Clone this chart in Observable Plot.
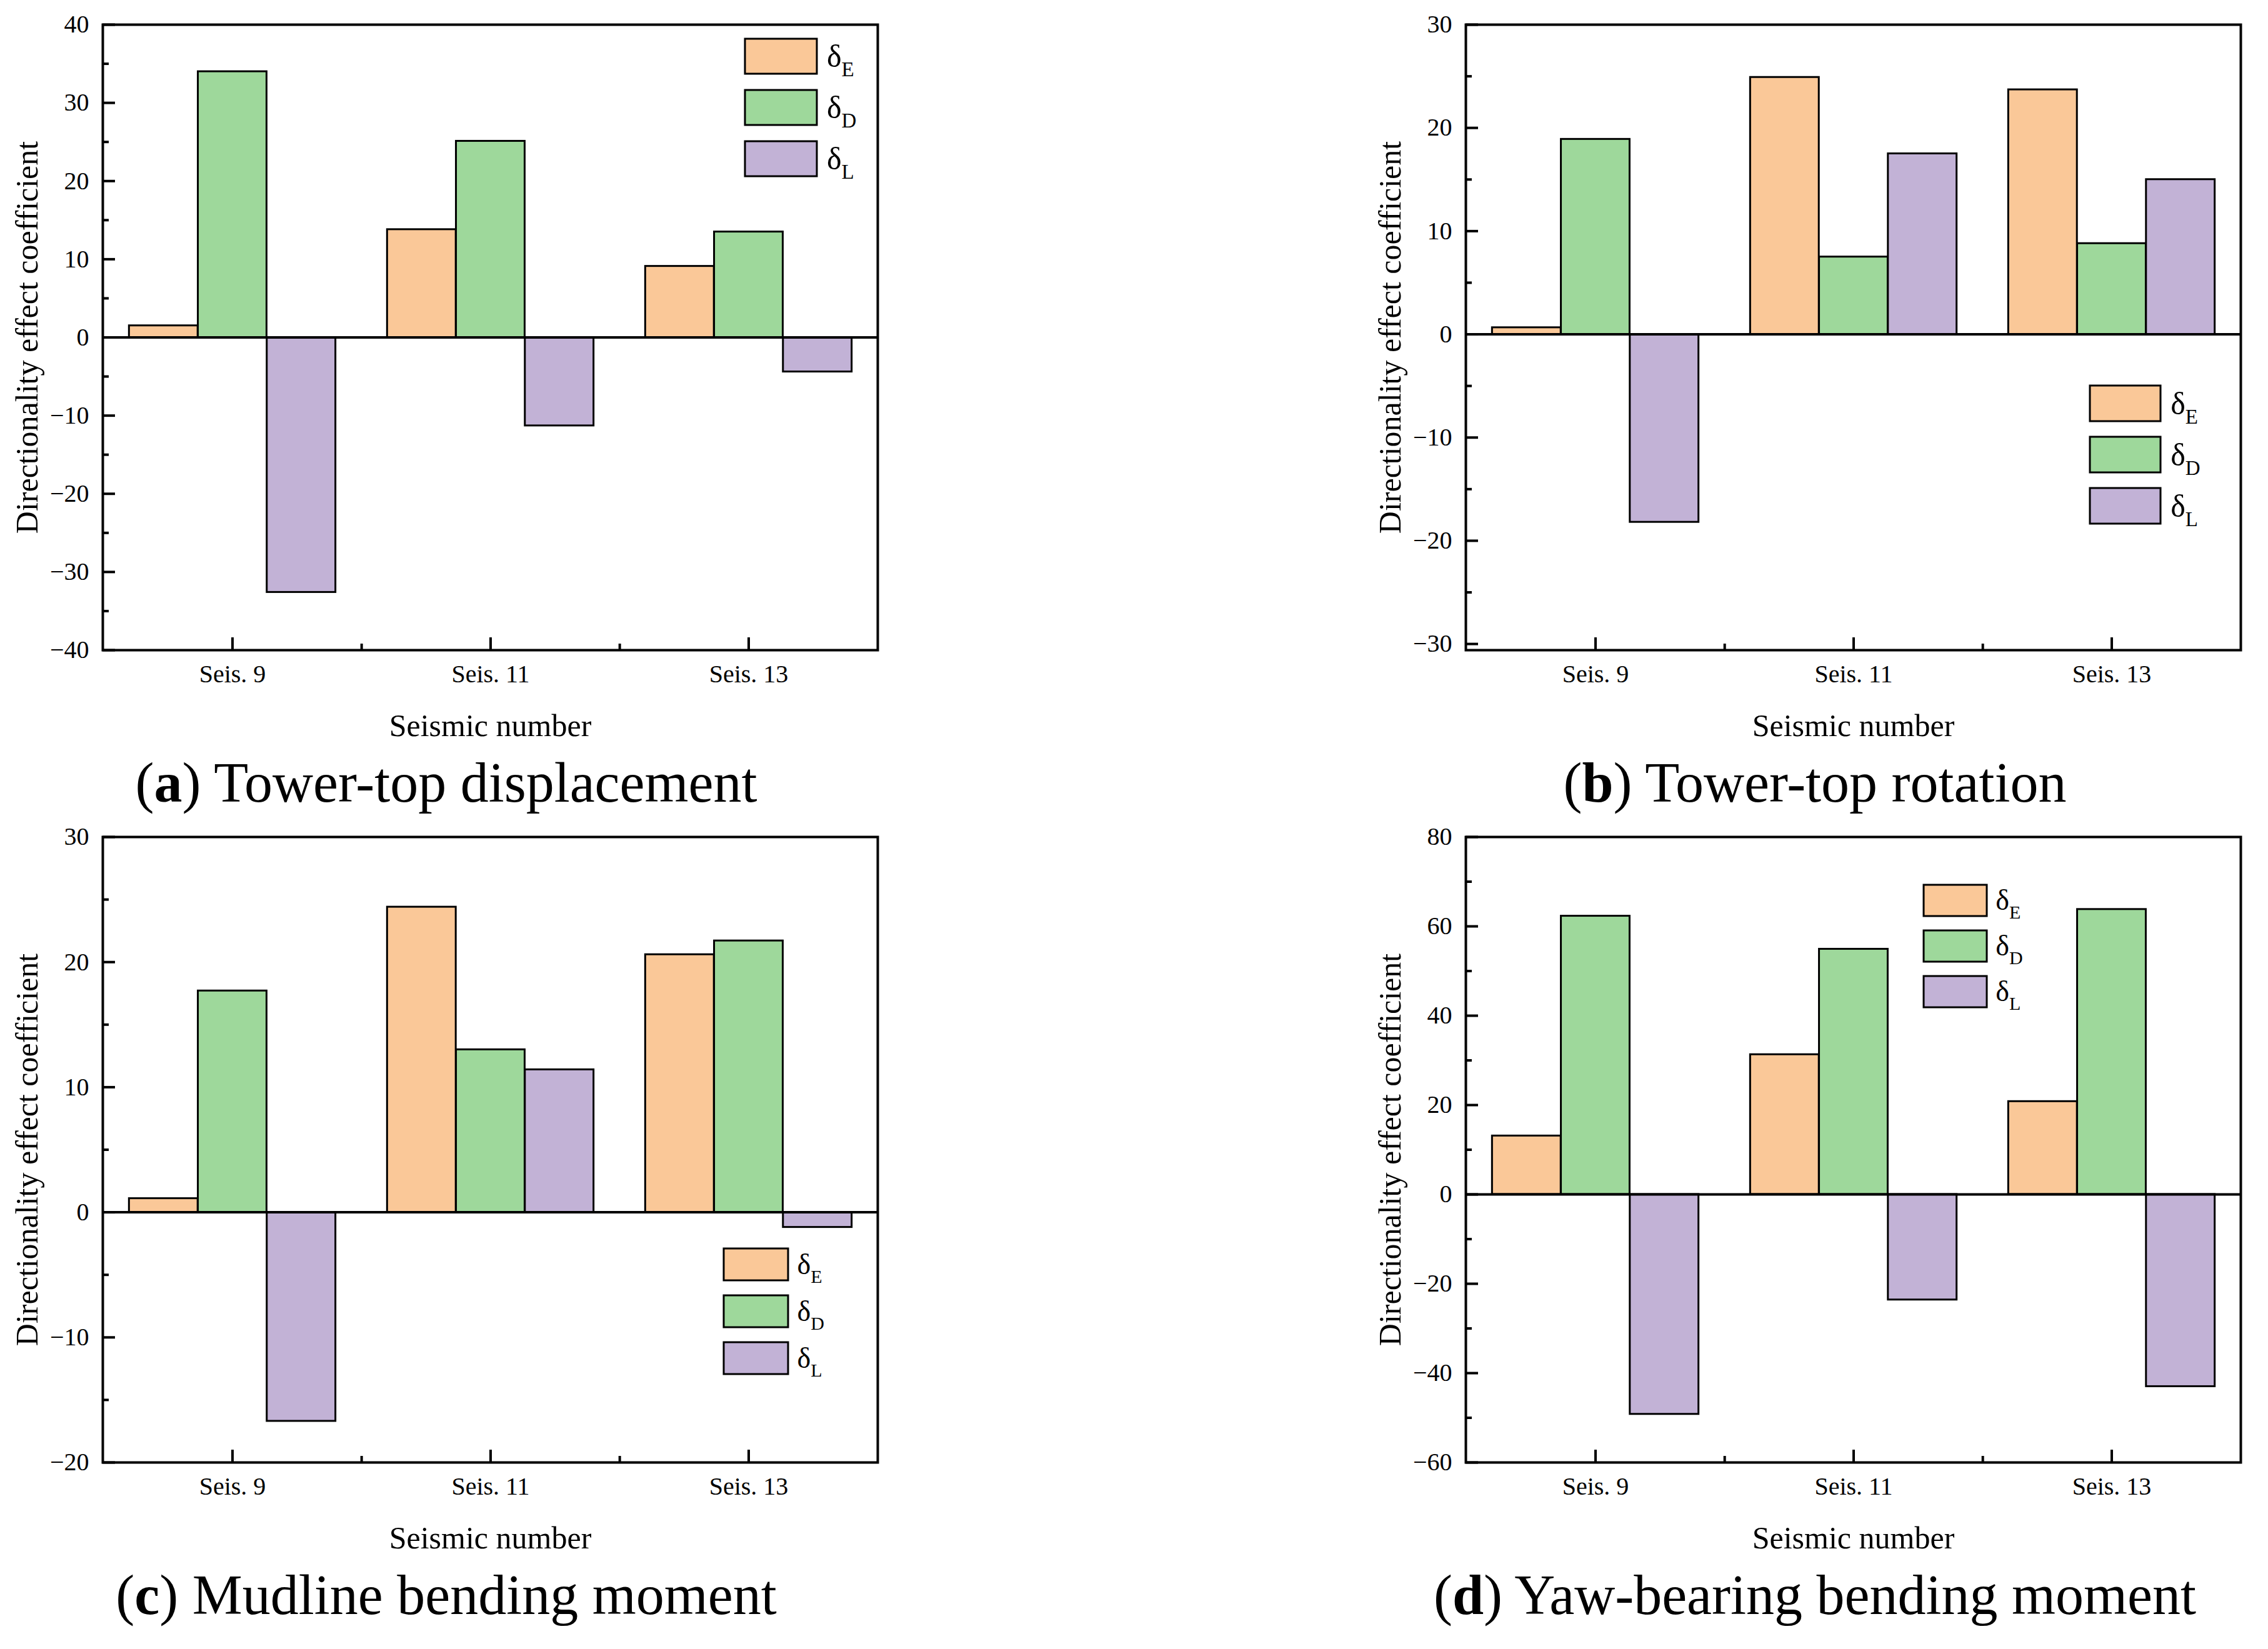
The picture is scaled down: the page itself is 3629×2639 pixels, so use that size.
<!DOCTYPE html>
<html>
<head>
<meta charset="utf-8">
<script src="https://cdn.jsdelivr.net/npm/d3@7"></script>
<script src="https://cdn.jsdelivr.net/npm/@observablehq/plot@0.6"></script>
<style>
html, body { margin: 0; padding: 0; background: #fff; }
#page { position: relative; width: 3629px; height: 2639px; overflow: hidden; background: #fff; font-family: "Liberation Serif", serif; }
.panel { position: absolute; }
.panel svg, .panel svg text, #overlay text { font-family: "Liberation Serif", "Times New Roman", serif !important; }
#overlay { position: absolute; left: 0; top: 0; pointer-events: none; }
</style>
</head>
<body>
<div id="page"></div>
<script>
// ---------- data ----------
const categories = ["Seis. 9", "Seis. 11", "Seis. 13"];
const seriesKeys = ["E", "D", "L"];
const seriesColors = ["#FAC898", "#9ED89B", "#C2B2D6"];
const yAxisTitle = "Directionality effect coefficient";
const xAxisTitle = "Seismic number";

// (a) Tower-top displacement
const aE = [1.5, 13.8, 9.1];
const aD = [34.0, 25.1, 13.5];
const aL = [-32.6, -11.3, -4.4];
const aTicks = [-40, -30, -20, -10, 0, 10, 20, 30, 40];
const aMinor = [-35, -25, -15, -5, 5, 15, 25, 35];

// (b) Tower-top rotation
const bE = [0.65, 24.9, 23.7];
const bD = [18.9, 7.5, 8.8];
const bL = [-18.2, 17.5, 15.0];
const bTicks = [-30, -20, -10, 0, 10, 20, 30];
const bMinor = [-25, -15, -5, 5, 15, 25];

// (c) Mudline bending moment
const cE = [1.1, 24.4, 20.6];
const cD = [17.7, 13.0, 21.7];
const cL = [-16.7, 11.4, -1.2];
const cTicks = [-20, -10, 0, 10, 20, 30];
const cMinor = [-15, -5, 5, 15, 25];

// (d) Yaw-bearing bending moment
const dE = [13.1, 31.3, 20.8];
const dD = [62.3, 54.9, 63.8];
const dL = [-49.2, -23.6, -43.0];
const dTicks = [-60, -40, -20, 0, 20, 40, 60, 80];
const dMinor = [-50, -30, -10, 10, 30, 50, 70];

const captionLetters = ["a", "b", "c", "d"];
const captionTexts = ["Tower-top displacement", "Tower-top rotation", "Mudline bending moment", "Yaw-bearing bending moment"];

// ---------- layout ----------
const W = 1444, H = 1210, mL = 164, mT = 39, mR = 40, mB = 170;
const innerW = W - mL - mR, innerH = H - mT - mB;

const panels = [
  {E: aE, D: aD, L: aL, domain: [-40, 40], ticks: aTicks, minor: aMinor, ox: 0, oy: 0,
   legend: {x: 1192, y: 62, w: 115, h: 56, gap: 82, fs: 50, sfs: 33}, cap: {x: 714, y: 1283}},
  {E: bE, D: bD, L: bL, domain: [-30.6, 30], ticks: bTicks, minor: bMinor, ox: 2181, oy: 0,
   legend: {x: 3344, y: 617, w: 113, h: 57, gap: 82, fs: 50, sfs: 33}, cap: {x: 2904, y: 1283}},
  {E: cE, D: cD, L: cL, domain: [-20, 30], ticks: cTicks, minor: cMinor, ox: 0, oy: 1300,
   legend: {x: 1158, y: 1998, w: 103, h: 51, gap: 75, fs: 46, sfs: 30}, cap: {x: 714, y: 2583}},
  {E: dE, D: dD, L: dL, domain: [-60, 80], ticks: dTicks, minor: dMinor, ox: 2181, oy: 1300,
   legend: {x: 3078, y: 1416, w: 101, h: 50, gap: 73, fs: 46, sfs: 30}, cap: {x: 2904, y: 2583}}
];

function makePanel(p) {
  const bw = innerW / categories.length;
  const barW = bw * 0.8 / seriesKeys.length;
  const vals = [p.E, p.D, p.L];
  const barMarks = vals.map((v, k) => Plot.barY(
    categories.map((c, i) => ({cat: c, series: seriesKeys[k], value: v[i]})),
    {x: "cat", y1: 0, y2: "value", fill: seriesColors[k], stroke: "black", strokeWidth: 3,
     insetLeft: bw * 0.1 + k * barW, insetRight: bw * 0.9 - (k + 1) * barW}
  ));
  return Plot.plot({
    width: W, height: H, marginLeft: mL, marginTop: mT, marginRight: mR, marginBottom: mB,
    style: {fontFamily: '"Liberation Serif", serif', fontSize: "40px", background: "white", color: "black", overflow: "visible"},
    x: {type: "band", domain: categories, padding: 0},
    y: {domain: p.domain, nice: false},
    marks: [
      ...barMarks,
      Plot.ruleY([0], {stroke: "black", strokeWidth: 4}),
      Plot.tickY(p.ticks, {y: d => d, stroke: "black", strokeWidth: 4, insetRight: innerW - 20}),
      Plot.tickY(p.minor, {y: d => d, stroke: "black", strokeWidth: 4, insetRight: innerW - 10}),
      Plot.tickX(categories, {x: d => d, stroke: "black", strokeWidth: 4, insetTop: innerH - 20}),
      Plot.tickX(categories.slice(0, -1), {x: d => d, dx: bw / 2, stroke: "black", strokeWidth: 4, insetTop: innerH - 10}),
      Plot.axisY(p.ticks, {tickSize: 0, tickPadding: 22, fontSize: 40, label: null}),
      Plot.axisX({tickSize: 0, tickPadding: 23, fontSize: 40, label: null}),
      Plot.text([yAxisTitle], {text: d => d, frameAnchor: "left", textAnchor: "middle", lineAnchor: "middle", rotate: -90, dx: -121, fontSize: 50}),
      Plot.text([xAxisTitle], {text: d => d, frameAnchor: "bottom", textAnchor: "middle", lineAnchor: "bottom", dy: 137, fontSize: 50}),
      Plot.frame({stroke: "black", strokeWidth: 4})
    ]
  });
}

const page = document.getElementById("page");
panels.forEach(p => {
  const div = document.createElement("div");
  div.className = "panel";
  div.style.left = p.ox + "px";
  div.style.top = p.oy + "px";
  div.appendChild(makePanel(p));
  page.appendChild(div);
});

// ---------- legends and captions ----------
const overlay = d3.select("#page").append("svg")
  .attr("id", "overlay").attr("width", 3629).attr("height", 2639)
  .style("font-family", '"Liberation Serif", serif');

panels.forEach((p, pi) => {
  const lg = p.legend;
  const s = lg.h / 56;
  seriesKeys.forEach((key, k) => {
    const y = lg.y + k * lg.gap;
    overlay.append("rect")
      .attr("x", lg.x).attr("y", y).attr("width", lg.w).attr("height", lg.h)
      .attr("fill", seriesColors[k]).attr("stroke", "black").attr("stroke-width", 3);
    const t = overlay.append("text")
      .attr("x", lg.x + lg.w + 16 * s).attr("y", y + lg.h / 2 + 17 * s)
      .attr("font-size", lg.fs).attr("fill", "black");
    t.append("tspan").text("δ");
    t.append("tspan").attr("font-size", lg.sfs).attr("dy", 15 * s).text(key);
  });
  const cap = overlay.append("text")
    .attr("x", p.cap.x).attr("y", p.cap.y).attr("text-anchor", "middle")
    .attr("font-size", 90).attr("fill", "black");
  cap.append("tspan").text("(");
  cap.append("tspan").attr("font-weight", "bold").text(captionLetters[pi]);
  cap.append("tspan").text(") " + captionTexts[pi]);
});
</script>
</body>
</html>
